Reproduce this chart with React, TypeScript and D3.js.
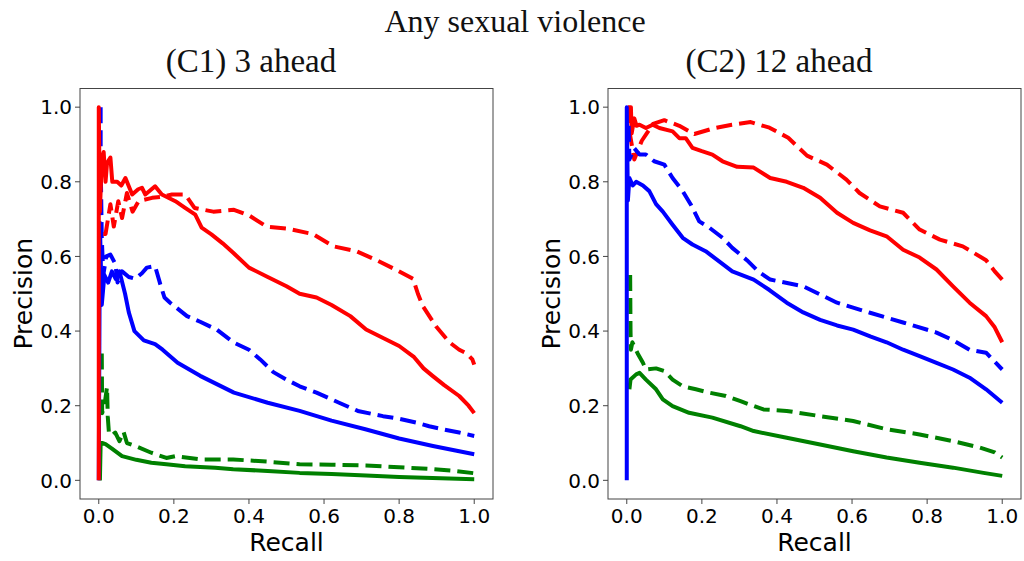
import React from 'react';
import * as d3 from 'd3';

type Pt = [number, number];

// (C1) 3 ahead: recall, precision
const c1RedSolid: Pt[] = [
  [0, 0], [0, 1.0], [0.003, 0.72], [0.008, 0.86], [0.013, 0.88], [0.018, 0.8], [0.022, 0.85],
  [0.031, 0.865], [0.036, 0.8], [0.049, 0.8], [0.06, 0.79], [0.071, 0.81], [0.089, 0.766],
  [0.105, 0.78], [0.115, 0.784], [0.124, 0.766], [0.15, 0.788], [0.168, 0.766], [0.204, 0.748],
  [0.23, 0.73], [0.257, 0.712], [0.274, 0.677], [0.3, 0.659], [0.33, 0.635], [0.358, 0.61],
  [0.4, 0.57], [0.45, 0.545], [0.5, 0.52], [0.535, 0.5], [0.58, 0.49], [0.62, 0.47],
  [0.67, 0.44], [0.712, 0.404], [0.76, 0.38], [0.8, 0.36], [0.84, 0.33], [0.865, 0.3],
  [0.889, 0.28], [0.92, 0.255], [0.96, 0.226], [0.985, 0.2], [1.0, 0.18],
];
const c1RedDashed: Pt[] = [
  [0.012, 0.66], [0.018, 0.66], [0.031, 0.74], [0.04, 0.68], [0.052, 0.748], [0.062, 0.703],
  [0.075, 0.77], [0.09, 0.72], [0.106, 0.748], [0.142, 0.757], [0.17, 0.76], [0.195, 0.766],
  [0.23, 0.766], [0.255, 0.73], [0.305, 0.72], [0.36, 0.725], [0.4, 0.71], [0.447, 0.68],
  [0.5, 0.675], [0.57, 0.66], [0.625, 0.627], [0.686, 0.614], [0.74, 0.59], [0.79, 0.565],
  [0.837, 0.54], [0.85, 0.5], [0.863, 0.467], [0.898, 0.413], [0.934, 0.37], [0.96, 0.35],
  [0.98, 0.34], [0.995, 0.324], [1.0, 0.31],
];
const c1BlueSolid: Pt[] = [
  [0, 0], [0.003, 0.69], [0.008, 0.47], [0.015, 0.55], [0.025, 0.53], [0.035, 0.56],
  [0.045, 0.54], [0.055, 0.56], [0.06, 0.54], [0.07, 0.5], [0.08, 0.45], [0.095, 0.4],
  [0.12, 0.375], [0.15, 0.365], [0.17, 0.35], [0.21, 0.315], [0.27, 0.28], [0.36, 0.235],
  [0.45, 0.208], [0.535, 0.186], [0.62, 0.16], [0.71, 0.137], [0.8, 0.112], [0.89, 0.092],
  [1.0, 0.07],
];
const c1BlueDashed: Pt[] = [
  [0.005, 1.0], [0.005, 0.86], [0.008, 0.65], [0.012, 0.55], [0.02, 0.6], [0.031, 0.605],
  [0.044, 0.58], [0.05, 0.53], [0.062, 0.56], [0.08, 0.545], [0.097, 0.54], [0.115, 0.555],
  [0.128, 0.57], [0.15, 0.574], [0.164, 0.525], [0.175, 0.49], [0.19, 0.476], [0.235, 0.44],
  [0.27, 0.425], [0.314, 0.404], [0.358, 0.37], [0.4, 0.35], [0.43, 0.324], [0.465, 0.29],
  [0.5, 0.27], [0.535, 0.252], [0.58, 0.235], [0.64, 0.208], [0.69, 0.186], [0.757, 0.172],
  [0.8, 0.165], [0.845, 0.155], [0.88, 0.145], [0.916, 0.137], [0.96, 0.128], [1.0, 0.119],
];
const c1GreenSolid: Pt[] = [
  [0.003, 0], [0.005, 0.1], [0.009, 0.1], [0.018, 0.097], [0.035, 0.085], [0.062, 0.065],
  [0.1, 0.055], [0.14, 0.047], [0.18, 0.043], [0.23, 0.038], [0.31, 0.034], [0.358, 0.03],
  [0.45, 0.025], [0.535, 0.02], [0.62, 0.017], [0.712, 0.013], [0.8, 0.009], [0.889, 0.006],
  [1.0, 0.003],
];
const c1GreenDashed: Pt[] = [
  [0.008, 0.34], [0.009, 0.18], [0.015, 0.2], [0.022, 0.25], [0.024, 0.17], [0.027, 0.128],
  [0.035, 0.12], [0.044, 0.128], [0.055, 0.105], [0.066, 0.13], [0.075, 0.1], [0.097, 0.092],
  [0.14, 0.074], [0.18, 0.06], [0.204, 0.065], [0.274, 0.056], [0.358, 0.056], [0.45, 0.05],
  [0.535, 0.043], [0.62, 0.042], [0.712, 0.04], [0.8, 0.035], [0.889, 0.03], [0.95, 0.025],
  [1.0, 0.019],
];

// (C2) 12 ahead
const c2RedSolid: Pt[] = [
  [0.003, 1.0], [0.011, 1.0], [0.013, 0.93], [0.02, 0.97], [0.026, 0.95], [0.034, 0.953],
  [0.051, 0.944], [0.069, 0.953], [0.087, 0.944], [0.122, 0.935], [0.14, 0.917], [0.157, 0.917],
  [0.175, 0.891], [0.2, 0.882], [0.228, 0.873], [0.255, 0.855], [0.294, 0.84], [0.338, 0.838],
  [0.382, 0.81], [0.426, 0.8], [0.47, 0.784], [0.515, 0.757], [0.56, 0.717], [0.603, 0.69],
  [0.648, 0.67], [0.692, 0.654], [0.736, 0.618], [0.78, 0.597], [0.825, 0.565], [0.869, 0.52],
  [0.913, 0.476], [0.957, 0.44], [0.98, 0.41], [1.0, 0.37],
];
const c2RedDashed: Pt[] = [
  [0.003, 1.0], [0.008, 0.93], [0.02, 0.86], [0.04, 0.91], [0.07, 0.955], [0.1, 0.965],
  [0.14, 0.95], [0.18, 0.928], [0.23, 0.943], [0.28, 0.953], [0.33, 0.96], [0.38, 0.945],
  [0.43, 0.918], [0.48, 0.87], [0.533, 0.846], [0.585, 0.806], [0.62, 0.77], [0.674, 0.734],
  [0.736, 0.717], [0.78, 0.672], [0.834, 0.645], [0.895, 0.627], [0.957, 0.59], [0.98, 0.56],
  [1.0, 0.538],
];
const c2BlueSolid: Pt[] = [
  [0, 0], [0, 1.0], [0.003, 0.75], [0.007, 0.81], [0.016, 0.79], [0.025, 0.8], [0.043, 0.79],
  [0.06, 0.775], [0.078, 0.74], [0.096, 0.72], [0.122, 0.685], [0.149, 0.65], [0.175, 0.632],
  [0.21, 0.614], [0.246, 0.587], [0.281, 0.56], [0.338, 0.538], [0.38, 0.51], [0.426, 0.476],
  [0.47, 0.45], [0.515, 0.43], [0.56, 0.415], [0.603, 0.404], [0.65, 0.385], [0.692, 0.37],
  [0.736, 0.35], [0.78, 0.333], [0.825, 0.315], [0.869, 0.297], [0.913, 0.275], [0.957, 0.244],
  [1.0, 0.208],
];
const c2BlueDashed: Pt[] = [
  [0.005, 0.95], [0.007, 0.86], [0.02, 0.89], [0.034, 0.873], [0.051, 0.873], [0.073, 0.855],
  [0.1, 0.846], [0.122, 0.81], [0.149, 0.775], [0.17, 0.74], [0.193, 0.694], [0.22, 0.677],
  [0.255, 0.65], [0.281, 0.623], [0.32, 0.59], [0.35, 0.56], [0.382, 0.538], [0.47, 0.52],
  [0.56, 0.476], [0.648, 0.449], [0.736, 0.423], [0.825, 0.396], [0.87, 0.375], [0.913, 0.35],
  [0.957, 0.342], [1.0, 0.297],
];
const c2GreenSolid: Pt[] = [
  [0.007, 0.244], [0.01, 0.27], [0.025, 0.284], [0.034, 0.288], [0.051, 0.27], [0.078, 0.244],
  [0.096, 0.217], [0.122, 0.199], [0.166, 0.181], [0.228, 0.168], [0.303, 0.145], [0.338, 0.132],
  [0.426, 0.114], [0.515, 0.096], [0.603, 0.078], [0.692, 0.061], [0.78, 0.047], [0.869, 0.034],
  [0.95, 0.02], [1.0, 0.012],
];
const c2GreenDashed: Pt[] = [
  [0.009, 0.55], [0.01, 0.4], [0.011, 0.35], [0.015, 0.37], [0.029, 0.34], [0.043, 0.315],
  [0.051, 0.297], [0.078, 0.3], [0.1, 0.293], [0.122, 0.27], [0.149, 0.252], [0.184, 0.244],
  [0.22, 0.235], [0.264, 0.226], [0.303, 0.212], [0.364, 0.19], [0.426, 0.186], [0.515, 0.172],
  [0.603, 0.159], [0.692, 0.137], [0.78, 0.123], [0.869, 0.105], [0.94, 0.088], [0.98, 0.075],
  [1.0, 0.061],
];

const ticks = [0, 0.2, 0.4, 0.6, 0.8, 1.0];

const RED = '#ff0000';
const BLUE = '#0000ff';
const GREEN = '#008000';

type Series = { data: Pt[]; color: string; dashed: boolean };

const panels = [
  {
    title: '(C1) 3 ahead',
    titleX: 251,
    left: 80,
    right: 493,
    series: [
      { data: c1GreenDashed, color: GREEN, dashed: true },
      { data: c1GreenSolid, color: GREEN, dashed: false },
      { data: c1BlueDashed, color: BLUE, dashed: true },
      { data: c1BlueSolid, color: BLUE, dashed: false },
      { data: c1RedDashed, color: RED, dashed: true },
      { data: c1RedSolid, color: RED, dashed: false },
    ] as Series[],
  },
  {
    title: '(C2) 12 ahead',
    titleX: 779,
    left: 608,
    right: 1021,
    series: [
      { data: c2RedDashed, color: RED, dashed: true },
      { data: c2RedSolid, color: RED, dashed: false },
      { data: c2GreenDashed, color: GREEN, dashed: true },
      { data: c2GreenSolid, color: GREEN, dashed: false },
      { data: c2BlueDashed, color: BLUE, dashed: true },
      { data: c2BlueSolid, color: BLUE, dashed: false },
    ] as Series[],
  },
];

const TOP = 88.5;
const BOTTOM = 499;
const sans = 'DejaVu Sans, sans-serif';
const serif = 'Liberation Serif, serif';

const Panel = ({ p }: { p: (typeof panels)[number] }) => {
  const x = d3.scaleLinear().domain([-0.05, 1.05]).range([p.left, p.right]);
  const y = d3.scaleLinear().domain([-0.05, 1.05]).range([BOTTOM, TOP]);
  const line = d3.line<Pt>().x(d => x(d[0])).y(d => y(d[1]));
  const cx = (p.left + p.right) / 2;
  const cy = (TOP + BOTTOM) / 2;
  return (
    <g>
      <text x={p.titleX} y={72} textAnchor="middle" fontFamily={serif} fontSize={33} fill="#111">
        {p.title}
      </text>
      <defs>
        <clipPath id={`clip-${p.left}`}>
          <rect x={p.left} y={TOP} width={p.right - p.left} height={BOTTOM - TOP} />
        </clipPath>
      </defs>
      <g clipPath={`url(#clip-${p.left})`}>
        {p.series.map((s, i) => (
          <path
            key={i}
            d={line(s.data) || ''}
            fill="none"
            stroke={s.color}
            strokeWidth={4}
            strokeLinejoin="round"
            strokeDasharray={s.dashed ? '16,7' : undefined}
          />
        ))}
      </g>
      <rect x={p.left} y={TOP} width={p.right - p.left} height={BOTTOM - TOP} fill="none" stroke="#444" strokeWidth={1} />
      {ticks.map(t => (
        <g key={`x${t}`}>
          <line x1={x(t)} x2={x(t)} y1={BOTTOM} y2={BOTTOM + 5} stroke="#444" strokeWidth={1} />
          <text x={x(t)} y={523} textAnchor="middle" fontFamily={sans} fontSize={20} fill="#000">
            {d3.format('.1f')(t)}
          </text>
        </g>
      ))}
      {ticks.map(t => (
        <g key={`y${t}`}>
          <line x1={p.left - 5} x2={p.left} y1={y(t)} y2={y(t)} stroke="#444" strokeWidth={1} />
          <text x={p.left - 8} y={y(t)} dy="0.36em" textAnchor="end" fontFamily={sans} fontSize={20} fill="#000">
            {d3.format('.1f')(t)}
          </text>
        </g>
      ))}
      <text x={cx} y={551} textAnchor="middle" fontFamily={sans} fontSize={25} fill="#000">
        Recall
      </text>
      <text
        transform={`translate(${p.left - 48},${cy}) rotate(-90)`}
        textAnchor="middle"
        fontFamily={sans}
        fontSize={25}
        fill="#000"
      >
        Precision
      </text>
    </g>
  );
};

export default function App() {
  return (
    <svg width={1024} height={561} style={{ position: 'absolute', left: 0, top: 0, background: '#fff' }}>
      <rect width={1024} height={561} fill="#fff" />
      <text x={515} y={32} textAnchor="middle" fontFamily={serif} fontSize={32} fill="#111">
        Any sexual violence
      </text>
      {panels.map(p => (
        <Panel key={p.title} p={p} />
      ))}
    </svg>
  );
}
